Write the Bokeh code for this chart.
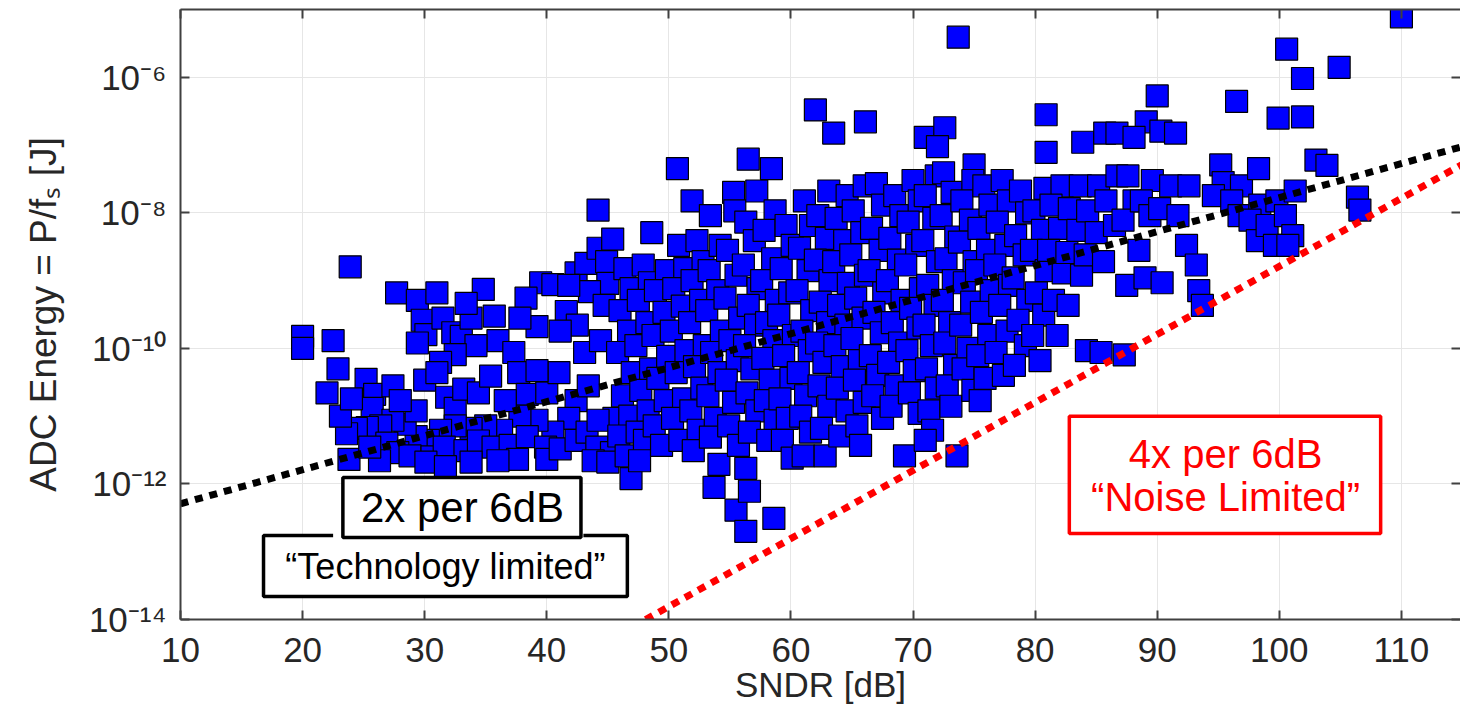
from bokeh.plotting import figure
from bokeh.models import (Range1d, FixedTicker, CustomJSTickFormatter, LogAxis, LinearAxis,
                          BoxAnnotation, Label, ColumnDataSource)
from bokeh.embed import file_html
from bokeh.resources import INLINE

# ---------------- data ----------------
# low-SNDR region (20-47 dB): (SNDR dB, energy J)
low_points = [
    (20.0, 1.5e-10), (20.0, 1.0e-10), (22.5, 1.3e-10), (22.9, 5.0e-11), (22.0, 2.2e-11), (23.9, 1.6e-9),
    (25.2, 3.5e-11), (25.9, 2.1e-11), (25.7, 1.3e-11), (27.4, 2.8e-11), (27.7, 6.6e-10), (29.4, 5.1e-10),
    (31.0, 6.6e-10), (29.8, 2.6e-10), (30.1, 1.6e-10), (31.5, 2.8e-10), (32.3, 1.7e-10), (33.0, 1.5e-10),
    (33.8, 2.8e-10), (34.8, 7.4e-10), (33.4, 4.6e-10), (35.7, 3.0e-10), (36.0, 1.3e-10), (34.2, 1.1e-10),
    (32.5, 8.1e-11), (31.3, 6.2e-11), (29.4, 1.2e-10), (30.0, 3.4e-11), (31.0, 4.4e-11), (31.8, 1.9e-11),
    (32.5, 1.3e-11), (33.2, 2.5e-11), (34.4, 2.2e-11), (35.4, 3.9e-11), (37.3, 8.7e-11), (39.2, 2.1e-10),
    (39.5, 9.3e-10), (40.5, 8.7e-10), (41.6, 3.5e-10), (42.4, 1.3e-9), (43.2, 1.8e-9), (44.2, 3.0e-9),
    (44.9, 1.9e-9), (44.2, 1.1e-8), (45.0, 9.1e-10), (43.5, 6.9e-10), (44.7, 4.3e-10), (42.5, 2.2e-10),
    (41.1, 1.8e-10), (38.3, 5.5e-10), (37.8, 2.8e-10), (37.7, 4.4e-11), (38.4, 2.1e-11), (40.0, 2.2e-11),
    (41.0, 4.4e-11), (42.4, 1.7e-11), (41.8, 9.3e-12), (40.5, 5.8e-12), (39.2, 8.7e-12), (37.8, 1.0e-11),
    (36.3, 6.2e-12), (35.0, 7.2e-12), (33.8, 6.6e-12), (32.5, 7.2e-12), (31.3, 6.2e-12), (30.3, 4.4e-12),
    (29.3, 5.0e-12), (28.4, 7.6e-12), (27.4, 8.7e-12), (26.4, 7.2e-12), (25.3, 6.8e-12), (24.4, 6.6e-12),
    (23.6, 5.5e-12), (23.1, 1.0e-11), (24.0, 1.8e-11), (26.9, 4.0e-12), (27.8, 2.9e-12), (26.3, 2.2e-12),
    (23.8, 2.3e-12), (25.5, 3.5e-12), (28.8, 2.6e-12), (30.6, 2.5e-12), (31.6, 3.5e-12), (33.3, 3.1e-12),
    (34.4, 4.3e-12), (35.6, 3.5e-12), (37.0, 3.7e-12), (38.4, 5.0e-12), (39.9, 3.5e-12), (40.0, 2.3e-12),
    (41.1, 3.3e-12), (42.4, 4.4e-12), (43.3, 5.8e-12), (44.1, 3.5e-12), (45.3, 2.9e-12), (43.8, 2.2e-12),
    (45.0, 2.1e-12), (46.9, 1.2e-12), (45.5, 9.3e-12), (44.2, 8.7e-12), (30.1, 2.1e-12), (33.8, 2.1e-12),
    (37.6, 2.3e-12), (36.0, 2.2e-12), (31.7, 1.8e-12), (29.3, 1.2e-11), (28.0, 1.7e-11), (39.2, 4.7e-11),
    (36.6, 1.7e-11), (43.4, 2.8e-11), (43.1, 8.7e-11), (44.4, 1.3e-10), (41.8, 8.5e-10), (45.4, 4.1e-9),
]

# 46-62 dB region
mid_points = [
    (46.4, 1.5e-9), (46.9, 7.6e-10), (46.0, 3.6e-10), (46.7, 1.8e-10), (45.8, 8.7e-11), (47.0, 4.4e-11),
    (46.2, 2.0e-11), (46.8, 1.0e-11), (45.9, 5.1e-12), (46.5, 2.6e-12),
    (47.9, 1.7e-9), (48.4, 9.3e-10), (47.5, 5.1e-10), (48.2, 2.4e-10), (47.3, 1.1e-10), (48.5, 5.0e-11),
    (47.7, 2.4e-11), (48.3, 1.2e-11), (47.4, 5.8e-12), (48.0, 4.4e-12), (47.6, 2.2e-12),
    (48.6, 5.1e-9), (49.8, 1.4e-9), (48.9, 7.1e-10), (49.6, 3.4e-10), (48.7, 1.55e-10), (49.9, 7.6e-11),
    (49.1, 3.6e-11), (49.7, 1.7e-11), (48.8, 7.2e-12), (49.4, 3.7e-12),
    (50.7, 4.5e-8), (51.9, 1.5e-8), (50.8, 3.3e-9), (51.3, 1.5e-9), (50.4, 7.6e-10), (51.1, 4.2e-10),
    (50.2, 1.8e-10), (51.4, 9.3e-11), (50.6, 4.4e-11), (51.2, 1.8e-11), (50.3, 9.3e-12), (50.9, 4.4e-12),
    (52.3, 3.9e-9), (52.8, 1.9e-9), (51.9, 1.0e-9), (52.6, 5.1e-10), (51.7, 2.4e-10), (52.9, 1.1e-10),
    (52.1, 5.4e-11), (52.7, 2.6e-11), (51.8, 1.2e-11), (52.4, 6.2e-12), (52.0, 3.1e-12),
    (53.4, 9.1e-9), (54.2, 3.3e-9), (53.3, 1.4e-9), (54.0, 7.1e-10), (53.1, 3.6e-10), (54.3, 1.8e-10),
    (53.5, 8.7e-11), (54.1, 4.4e-11), (53.2, 2.0e-11), (53.8, 9.3e-12), (53.4, 4.9e-12), (54.1, 1.95e-12),
    (53.7, 8.9e-13),
    (55.3, 2.0e-8), (55.4, 1.07e-8), (54.8, 2.8e-9), (55.5, 1.2e-9), (54.6, 5.5e-10), (55.8, 2.8e-10),
    (55.0, 1.3e-10), (55.6, 6.6e-11), (54.7, 3.4e-11), (55.3, 1.6e-11), (54.9, 7.2e-12), (55.7, 3.7e-12),
    (55.5, 4.1e-13),
    (56.5, 6.2e-8), (57.2, 2.1e-8), (56.3, 7.3e-9), (57.0, 3.9e-9), (56.1, 1.7e-9), (57.3, 7.6e-10),
    (56.5, 4.3e-10), (57.1, 2.2e-10), (56.2, 1.1e-10), (56.8, 5.0e-11), (56.4, 2.2e-11), (57.2, 1.2e-11),
    (56.6, 5.8e-12), (56.3, 1.7e-12), (56.6, 7.8e-13), (56.3, 2.0e-13),
    (58.4, 4.5e-8), (58.7, 1.07e-8), (57.8, 5.5e-9), (58.5, 2.1e-9), (57.6, 1.0e-9), (58.8, 5.1e-10),
    (58.0, 2.4e-10), (58.6, 1.3e-10), (57.7, 7.1e-11), (58.3, 3.4e-11), (57.9, 1.7e-11), (58.7, 8.7e-12),
    (58.1, 4.4e-12), (58.6, 3.1e-13),
    (59.6, 6.5e-9), (60.1, 3.3e-9), (59.2, 1.5e-9), (59.9, 6.6e-10), (59.0, 3.1e-10), (60.2, 1.55e-10),
    (59.4, 7.8e-11), (60.0, 3.6e-11), (59.1, 1.8e-11), (59.7, 9.3e-12), (59.3, 4.4e-12), (60.1, 2.4e-12),
    (61.1, 1.5e-8), (61.6, 6.5e-9), (60.7, 3.0e-9), (61.4, 1.4e-9), (60.5, 7.1e-10), (61.7, 3.6e-10),
    (60.9, 1.8e-10), (61.5, 9.3e-11), (60.6, 4.4e-11), (61.2, 2.0e-11), (60.8, 1.0e-11), (61.6, 5.8e-12),
    (61.0, 2.6e-12),
]

# 62-80 dB region
upper_mid_points = [
    (62.0, 3.3e-7), (63.1, 2.1e-8), (62.2, 9.1e-9), (62.9, 4.2e-9), (62.0, 2.0e-9), (63.2, 1.0e-9),
    (62.4, 4.8e-10), (63.0, 2.4e-10), (62.1, 1.2e-10), (62.7, 6.2e-11), (62.3, 2.8e-11), (63.1, 1.4e-11),
    (62.5, 6.6e-12), (62.8, 2.6e-12),
    (63.5, 1.5e-7), (64.6, 1.8e-8), (63.7, 8.3e-9), (64.4, 3.9e-9), (63.5, 1.9e-9), (64.7, 9.1e-10),
    (63.9, 4.3e-10), (64.5, 2.2e-10), (63.6, 1.1e-10), (64.2, 5.4e-11), (63.8, 2.6e-11), (64.6, 1.2e-11),
    (64.0, 5.1e-12),
    (66.1, 2.2e-7), (66.0, 2.5e-8), (65.1, 1.07e-8), (65.8, 5.1e-9), (64.9, 2.4e-9), (66.1, 1.2e-9),
    (65.3, 5.5e-10), (65.9, 2.8e-10), (65.0, 1.4e-10), (65.6, 6.6e-11), (65.2, 3.4e-11), (66.0, 1.6e-11),
    (65.4, 7.2e-12), (65.7, 3.7e-12),
    (67.0, 2.7e-8), (67.5, 1.3e-8), (66.6, 5.9e-9), (67.3, 2.8e-9), (66.4, 1.4e-9), (67.6, 6.6e-10),
    (66.8, 3.4e-10), (67.4, 1.7e-10), (66.5, 7.8e-11), (67.1, 4.0e-11), (66.7, 2.0e-11), (67.5, 9.3e-12),
    (68.5, 1.8e-8), (69.0, 9.1e-9), (68.1, 4.2e-9), (68.8, 2.0e-9), (67.9, 1.0e-9), (69.1, 5.1e-10),
    (68.3, 2.4e-10), (68.9, 1.2e-10), (68.0, 6.2e-11), (68.6, 2.8e-11), (68.2, 1.4e-11), (69.3, 2.6e-12),
    (70.0, 3.0e-8), (70.5, 1.5e-8), (69.6, 7.3e-9), (70.3, 3.3e-9), (69.4, 1.7e-9), (70.6, 7.6e-10),
    (69.8, 3.9e-10), (70.4, 2.0e-10), (69.5, 9.3e-11), (70.1, 4.7e-11), (69.7, 2.2e-11), (70.5, 1.1e-11),
    (71.0, 1.3e-7), (71.9, 3.5e-8), (71.0, 1.8e-8), (71.7, 8.3e-9), (70.8, 3.9e-9), (72.0, 1.9e-9),
    (71.2, 8.5e-10), (71.8, 4.3e-10), (70.9, 2.2e-10), (71.5, 1.1e-10), (71.1, 5.0e-11), (71.9, 2.6e-11),
    (71.3, 1.2e-11), (71.6, 6.2e-12), (71.0, 4.4e-12),
    (72.6, 1.8e-7), (72.0, 9.5e-8), (72.5, 3.9e-8), (73.2, 2.0e-8), (72.3, 9.1e-9), (73.5, 4.4e-9),
    (72.7, 2.1e-9), (73.3, 1.0e-9), (72.4, 5.1e-10), (73.0, 2.4e-10), (72.6, 1.2e-10), (73.4, 5.6e-11),
    (72.8, 2.8e-11), (73.1, 1.4e-11),
    (75.0, 5.1e-8), (74.9, 3.0e-8), (74.0, 1.5e-8), (74.7, 7.8e-9), (73.8, 3.7e-9), (75.0, 1.9e-9),
    (74.2, 9.3e-10), (74.8, 4.8e-10), (73.9, 2.2e-10), (74.5, 1.0e-10), (74.1, 5.0e-11), (74.9, 2.4e-11),
    (73.6, 2.6e-12),
    (75.8, 2.5e-8), (76.3, 1.3e-8), (75.4, 5.9e-9), (76.1, 2.8e-9), (75.2, 1.4e-9), (76.4, 7.1e-10),
    (75.6, 3.4e-10), (76.2, 1.55e-10), (75.3, 7.8e-11), (75.9, 3.6e-11), (75.5, 1.7e-11),
    (77.3, 3.0e-8), (77.8, 1.5e-8), (76.9, 7.3e-9), (77.6, 3.3e-9), (76.7, 1.7e-9), (77.9, 8.5e-10),
    (77.1, 4.3e-10), (77.7, 1.8e-10), (76.8, 8.7e-11), (77.4, 4.0e-11),
    (78.8, 2.1e-8), (79.3, 1.0e-8), (78.4, 4.6e-9), (79.1, 2.4e-9), (78.2, 1.1e-9), (79.4, 5.1e-10),
    (78.6, 2.6e-10), (79.2, 1.1e-10), (78.3, 5.6e-11),
]

# 80-110 dB region and outliers
high_points = [
    (80.9, 7.8e-8), (80.8, 2.3e-8), (79.9, 1.07e-8), (80.6, 5.5e-9), (79.7, 2.8e-9), (80.9, 1.4e-9),
    (80.1, 6.6e-10), (80.7, 3.1e-10), (79.8, 1.55e-10), (80.4, 6.6e-11),
    (80.9, 2.8e-7), (82.2, 2.5e-8), (81.3, 1.3e-8), (82.0, 5.9e-9), (81.1, 2.8e-9), (82.3, 1.3e-9),
    (81.5, 5.1e-10), (81.8, 1.55e-10),
    (83.9, 1.1e-7), (83.7, 2.5e-8), (82.8, 1.15e-8), (83.5, 5.5e-9), (82.6, 2.6e-9), (83.8, 1.2e-9),
    (82.7, 4.3e-10),
    (85.7, 1.5e-7), (85.2, 2.5e-8), (84.3, 1.07e-8), (85.0, 5.1e-9), (84.1, 2.4e-9), (84.2, 9.3e-11),
    (86.7, 1.5e-7), (86.7, 3.5e-8), (85.8, 1.5e-8), (86.5, 6.5e-9), (85.6, 1.9e-9), (85.4, 8.7e-11),
    (87.3, 8.0e-11),
    (87.6, 3.5e-8), (88.1, 1.5e-8), (87.2, 7.8e-9), (87.5, 8.5e-10),
    (89.1, 2.2e-7), (88.1, 1.3e-7), (89.6, 3.0e-8), (88.7, 1.5e-8), (89.4, 9.1e-9), (88.5, 2.8e-9),
    (89.0, 1.1e-9),
    (90.0, 5.3e-7), (90.3, 1.6e-7), (91.1, 2.5e-8), (90.2, 1.15e-8), (90.4, 9.3e-10),
    (91.5, 1.5e-7), (92.6, 2.5e-8), (91.7, 9.1e-9), (92.4, 3.3e-9),
    (93.2, 1.7e-9), (93.4, 7.1e-10), (93.7, 4.3e-10),
    (95.2, 5.1e-8), (95.4, 2.8e-8), (94.6, 1.8e-8),
    (96.5, 4.4e-7), (96.9, 2.5e-8), (96.1, 1.5e-8), (96.7, 9.1e-9),
    (98.3, 4.5e-8), (98.4, 1.3e-8), (97.6, 7.8e-9), (98.2, 3.9e-9),
    (99.9, 2.5e-7), (99.8, 1.5e-8), (99.0, 6.5e-9), (99.6, 3.3e-9),
    (100.6, 2.6e-6), (101.9, 2.6e-7), (101.3, 2.1e-8), (100.5, 9.1e-9), (101.1, 4.6e-9), (100.7, 3.3e-9),
    (101.9, 9.6e-7), (103.0, 6.0e-8), (103.9, 5.0e-8), (104.9, 1.4e-6), (106.4, 1.7e-8), (106.6, 1.1e-8),
    (110.0, 7.8e-6), (73.7, 3.9e-6),
]

# trend lines: "2x per 6dB" (technology limited) and "4x per 6dB" (noise limited)
tech_line_db = [10.0, 115.0]
tech_line_j = [5.1e-13, 9.5e-8]
noise_line_db = [48.1, 115.0]
noise_line_j = [1.0e-14, 5.2e-8]

x_ticks = [10, 20, 30, 40, 50, 60, 70, 80, 90, 100, 110]
y_ticks = [1e-14, 1e-12, 1e-10, 1e-8, 1e-6]

# ---------------- figure ----------------
all_points = low_points + mid_points + upper_mid_points + high_points
src = ColumnDataSource(data=dict(sndr=[pt[0] for pt in all_points],
                                 energy=[pt[1] for pt in all_points]))

FONT = "Liberation Sans"
AX = "#404040"
TXT = "#262626"

p = figure(width=1460, height=720, x_range=Range1d(10, 114.84), y_range=Range1d(1e-14, 1e-5),
           y_axis_type="log", output_backend="svg", toolbar_location=None,
           min_border_left=180, min_border_right=0, min_border_top=9, min_border_bottom=101)
p.outline_line_color = None
p.background_fill_color = "white"
p.border_fill_color = "white"

p.xaxis.ticker = FixedTicker(ticks=x_ticks)
p.yaxis.ticker = FixedTicker(ticks=y_ticks)
sup = {"-": "⁻", "0": "⁰", "1": "¹", "2": "²", "3": "³", "4": "⁴", "5": "⁵",
       "6": "⁶", "7": "⁷", "8": "⁸", "9": "⁹"}
p.yaxis.formatter = CustomJSTickFormatter(args=dict(sup=sup), code="""
    const e = Math.round(Math.log10(tick));
    return "10" + String(e).split("").map(c => sup[c]).join("");
""")

for ax in (p.xaxis[0], p.yaxis[0]):
    ax.axis_line_color = AX
    ax.axis_line_width = 2
    ax.major_tick_in = 9
    ax.major_tick_out = 0
    ax.major_tick_line_color = AX
    ax.major_tick_line_width = 2
    ax.minor_tick_line_color = None
    ax.major_label_text_font = FONT
    ax.major_label_text_font_size = "35px"
    ax.major_label_text_color = TXT
    ax.axis_label_text_font = FONT
    ax.axis_label_text_font_style = "normal"
    ax.axis_label_text_color = TXT

p.xaxis.axis_label = "SNDR [dB]"
p.xaxis.axis_label_text_font_size = "35px"
p.xaxis.major_label_standoff = 18
p.xaxis.axis_label_standoff = 0

p.yaxis.axis_label = "ADC Energy = P/fₛ [J]"
p.yaxis.axis_label_text_font_size = "37px"
p.yaxis.major_label_standoff = 14
p.yaxis.axis_label_standoff = 22

blank = CustomJSTickFormatter(code="return '';")
top_ax = LinearAxis(ticker=FixedTicker(ticks=x_ticks), formatter=blank, axis_line_color=AX,
                    axis_line_width=2, major_tick_in=9, major_tick_out=0, major_tick_line_color=AX,
                    major_tick_line_width=2, minor_tick_line_color=None,
                    major_label_text_font_size="0px", major_label_standoff=0)
p.add_layout(top_ax, "above")
right_ax = LogAxis(ticker=FixedTicker(ticks=y_ticks), formatter=blank, axis_line_color=None,
                   major_tick_in=9, major_tick_out=0, major_tick_line_color=AX,
                   major_tick_line_width=2, minor_tick_line_color=None,
                   major_label_text_font_size="0px", major_label_standoff=0)
p.add_layout(right_ax, "right")

p.grid.grid_line_color = "#e6e6e6"
p.grid.grid_line_width = 1

p.scatter("sndr", "energy", source=src, marker="square", size=22,
          fill_color="#0000ff", line_color="black", line_width=1.2)

p.line(tech_line_db, tech_line_j, line_color="black", line_width=7, line_dash="8 7")
p.line(noise_line_db, noise_line_j, line_color="#ff0000", line_width=7, line_dash="8 7")

# annotation boxes
box_b = BoxAnnotation(left=16.8, right=46.6, bottom=2.18e-14, top=1.73e-13, fill_color="white",
                      fill_alpha=1, line_color="black", line_width=3.5, line_alpha=1)
margin_a = BoxAnnotation(left=22.5, right=43.0, bottom=1.5e-13, top=1.9e-13, fill_color="white",
                         fill_alpha=1, line_color=None)
box_a = BoxAnnotation(left=23.3, right=42.8, bottom=1.62e-13, top=1.24e-12, fill_color="white",
                      fill_alpha=1, line_color="black", line_width=3.5, line_alpha=1)
box_r = BoxAnnotation(left=82.8, right=108.3, bottom=1.86e-13, top=1.0e-11, fill_color="white",
                      fill_alpha=1, line_color="#ff0000", line_width=3.5, line_alpha=1)
for b in (box_b, margin_a, box_a, box_r):
    p.add_layout(b)

labels = [
    Label(x=33.1, y=4.49e-13, text="2x per 6dB", text_font_size="42px", text_color="black"),
    Label(x=31.7, y=6.05e-14, text="“Technology limited”", text_font_size="36px", text_color="black"),
    Label(x=95.6, y=2.81e-12, text="4x per 6dB", text_font_size="40px", text_color="#ff0000"),
    Label(x=95.6, y=6.31e-13, text="“Noise Limited”", text_font_size="40px", text_color="#ff0000"),
]
for lb in labels:
    lb.text_font = FONT
    lb.text_align = "center"
    lb.text_baseline = "middle"
    p.add_layout(lb)

open("out.html", "w").write(file_html(p, INLINE))
